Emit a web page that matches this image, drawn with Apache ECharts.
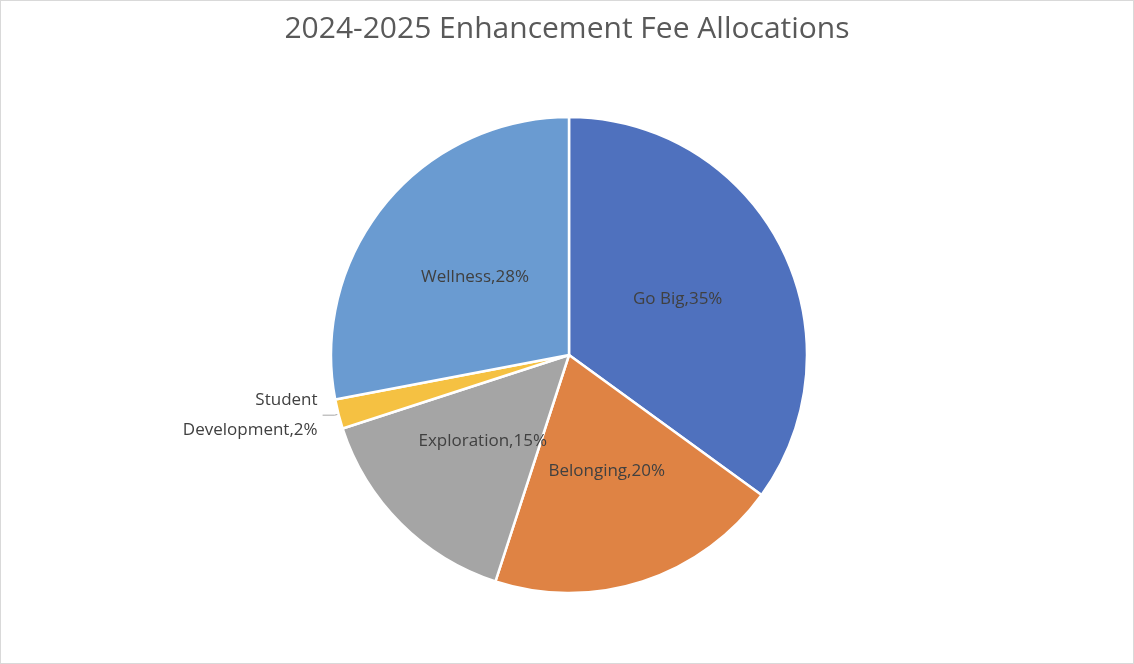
<!DOCTYPE html>
<html><head><meta charset="utf-8">
<script src="https://cdn.jsdelivr.net/npm/echarts@6/dist/echarts.min.js"></script>
<style>html,body{margin:0;padding:0;background:#fff}#c{width:1134px;height:664px;box-sizing:border-box;border:1px solid #d9d9d9}</style>
</head><body><div id="c"></div>
<script>
const categories = ["Go Big", "Belonging", "Exploration", "Student Development", "Wellness"];
const values = [35, 20, 15, 2, 28];
const colors = ["#4f71be", "#df8344", "#a5a5a5", "#f5c142", "#6a9bd1"];
const chart = echarts.init(document.getElementById('c'));
chart.setOption({
  animation: false,
  title: {text: "2024-2025 Enhancement Fee Allocations", left: 'center', top: 8,
    textStyle: {fontFamily: 'Open Sans', fontWeight: 'normal', fontSize: 30, color: '#595959'}},
  series: [{
    type: 'pie', center: [568, 354], radius: 238, startAngle: 90, clockwise: true,
    itemStyle: {borderColor: '#fff', borderWidth: 2.5},
    label: {position: 'inner', formatter: '{b},{c}%', fontFamily: 'Open Sans', fontSize: 17, color: '#404040'},
    labelLine: {show: false},
    data: categories.map((n, i) => {
      const d = {name: n, value: values[i], itemStyle: {color: colors[i]}};
      if (n === "Student Development") {
        d.name = "Student\nDevelopment";
        d.label = {position: 'outside', align: 'right', lineHeight: 30, formatter: 'Student\nDevelopment,{c}%'};
        d.labelLine = {show: true, length: 4, length2: 12, lineStyle: {color: '#a6a6a6'}};
      }
      return d;
    })
  }]
});
</script></body></html>
